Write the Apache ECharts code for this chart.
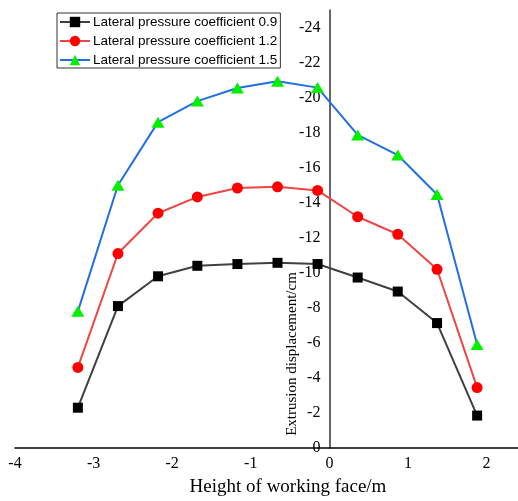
<!DOCTYPE html>
<html>
<head>
<meta charset="utf-8">
<script src="https://cdn.jsdelivr.net/npm/echarts@6/dist/echarts.min.js"></script>
<style>html,body{margin:0;padding:0;background:#fff}#c{width:518px;height:501px}</style>
</head>
<body>
<div id="c"></div>
<script>
// Data
const heights = [-3.2, -2.69, -2.18, -1.68, -1.17, -0.66, -0.15, 0.36, 0.87, 1.37, 1.88];
const coef09 = [-2.3, -8.1, -9.8, -10.4, -10.5, -10.57, -10.5, -9.73, -8.93, -7.13, -1.85];
const coef12 = [-4.6, -11.1, -13.4, -14.33, -14.84, -14.91, -14.7, -13.2, -12.2, -10.2, -3.45];
const coef15 = [-7.8, -15.0, -18.6, -19.8, -20.55, -20.93, -20.57, -17.87, -16.72, -14.47, -5.91];
const seriesNames = ['Lateral pressure coefficient 0.9', 'Lateral pressure coefficient 1.2', 'Lateral pressure coefficient 1.5'];
const xTicks = [-4, -3, -2, -1, 0, 1, 2];
const yTicks = [-24, -22, -20, -18, -16, -14, -12, -10, -8, -6, -4, -2, 0];

const pairs = ys => heights.map((x, i) => [x, ys[i]]);
const serif = 'Liberation Serif';
const W = 518, H = 501;
const gridLeft = 15, gridRight = 0, xMin = -4, xMax = 2.4;
// place the y axis at x = 0 of the value scale
const yAxisOffset = -((0 - xMin) / (xMax - xMin)) * (W - gridLeft - gridRight);

const chart = echarts.init(document.getElementById('c'), null, {renderer: 'canvas'});
chart.setOption({
  animation: false,
  backgroundColor: '#fff',
  grid: {left: gridLeft, right: gridRight, top: 10, bottom: 53, containLabel: false, outerBoundsMode: 'none'},
  legend: {
    orient: 'vertical', left: 57, top: 13,
    padding: [2, 3, 1, 2],
    borderColor: '#333', borderWidth: 1,
    itemWidth: 30, itemHeight: 13, itemGap: 5,
    textStyle: {fontFamily: 'Liberation Sans', fontSize: 13.5, color: '#000', padding: [0, 0, 0, -2]},
    data: seriesNames
  },
  xAxis: {
    type: 'value', min: xMin, max: xMax, interval: 1,
    name: 'Height of working face/m', nameLocation: 'middle', nameGap: 30,
    nameTextStyle: {fontFamily: serif, fontSize: 19, color: '#000', padding: [0, 0, 0, 43]},
    axisLine: {onZero: false, lineStyle: {color: '#000', width: 1.5}},
    axisTick: {show: false},
    axisLabel: {customValues: xTicks, fontFamily: serif, fontSize: 16, color: '#000', margin: 8},
    splitLine: {show: false}
  },
  yAxis: {
    type: 'value', min: -25, max: 0, inverse: true,
    offset: yAxisOffset,
    axisLine: {show: true, onZero: false, lineStyle: {color: '#333', width: 1.5}},
    axisTick: {show: false},
    axisLabel: {customValues: yTicks, fontFamily: serif, fontSize: 16, color: '#000', margin: 9},
    splitLine: {show: false}
  },
  graphic: [{
    type: 'text', x: 292, y: 354, rotation: Math.PI / 2,
    style: {text: 'Extrusion displacement/cm', fontFamily: serif, fontSize: 15, fill: '#000', textAlign: 'center', textVerticalAlign: 'middle'}
  }],
  series: [
    {name: seriesNames[0], type: 'line', data: pairs(coef09), symbol: 'rect', symbolSize: 10,
     lineStyle: {color: '#404040', width: 2}, itemStyle: {color: '#000'}, z: 3},
    {name: seriesNames[1], type: 'line', data: pairs(coef12), symbol: 'circle', symbolSize: 11,
     lineStyle: {color: '#f04545', width: 2}, itemStyle: {color: '#ff0000'}, z: 4},
    {name: seriesNames[2], type: 'line', data: pairs(coef15), symbol: 'triangle', symbolSize: [13, 11],
     lineStyle: {color: '#2070e0', width: 2}, itemStyle: {color: '#00f000'}, z: 5}
  ]
});
</script>
</body>
</html>
